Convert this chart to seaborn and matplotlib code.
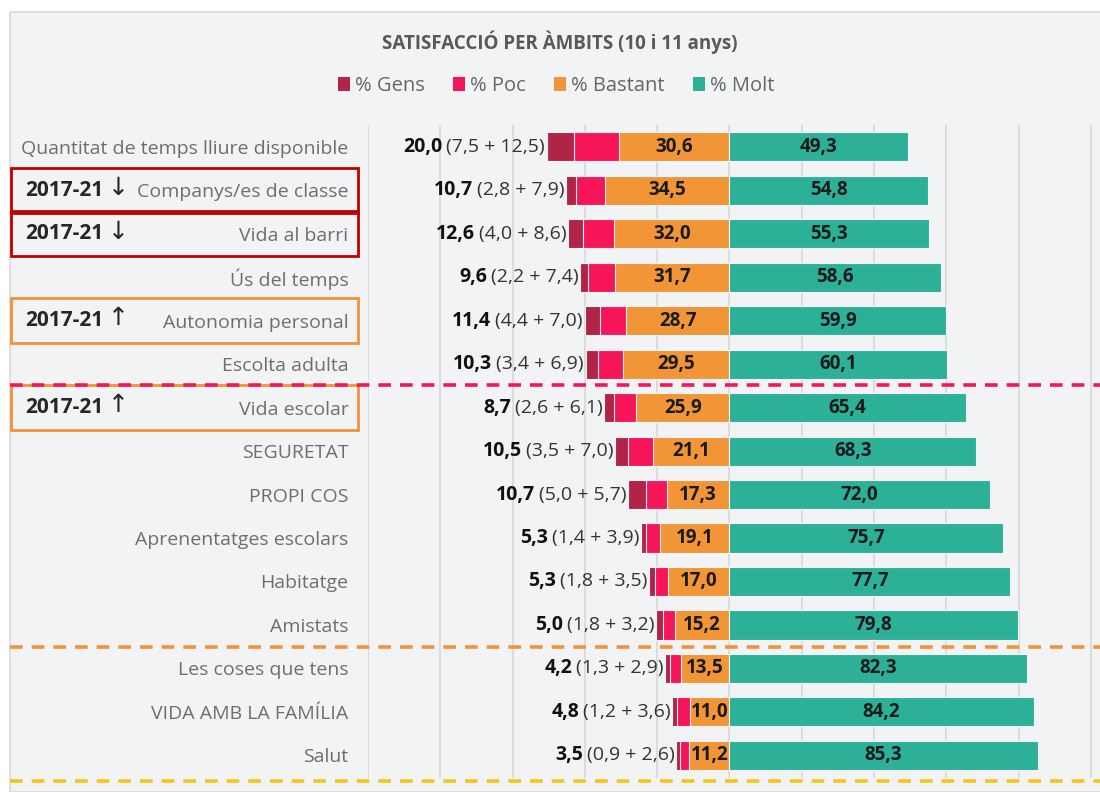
import matplotlib.pyplot as plt
import matplotlib.transforms as mtransforms
import seaborn as sns
from matplotlib.patches import Patch, Rectangle

# values (percentages)
categories = [
    "Quantitat de temps lliure disponible",
    "Companys/es de classe",
    "Vida al barri",
    "Ús del temps",
    "Autonomia personal",
    "Escolta adulta",
    "Vida escolar",
    "SEGURETAT",
    "PROPI COS",
    "Aprenentatges escolars",
    "Habitatge",
    "Amistats",
    "Les coses que tens",
    "VIDA AMB LA FAMÍLIA",
    "Salut",
]
gens = [7.5, 2.8, 4.0, 2.2, 4.4, 3.4, 2.6, 3.5, 5.0, 1.4, 1.8, 1.8, 1.3, 1.2, 0.9]
poc = [12.5, 7.9, 8.6, 7.4, 7.0, 6.9, 6.1, 7.0, 5.7, 3.9, 3.5, 3.2, 2.9, 3.6, 2.6]
insatisfets = [20.0, 10.7, 12.6, 9.6, 11.4, 10.3, 8.7, 10.5, 10.7, 5.3, 5.3, 5.0, 4.2, 4.8, 3.5]
bastant = [30.6, 34.5, 32.0, 31.7, 28.7, 29.5, 25.9, 21.1, 17.3, 19.1, 17.0, 15.2, 13.5, 11.0, 11.2]
molt = [49.3, 54.8, 55.3, 58.6, 59.9, 60.1, 65.4, 68.3, 72.0, 75.7, 77.7, 79.8, 82.3, 84.2, 85.3]

series_names = ["% Gens", "% Poc", "% Bastant", "% Molt"]
trend_rows = {
    "Companys/es de classe": "↓",
    "Vida al barri": "↓",
    "Autonomia personal": "↑",
    "Vida escolar": "↑",
}

# colours
C_GENS = "#AF2447"
C_POC = "#F7155A"
C_BASTANT = "#F19536"
C_MOLT = "#2CB198"
BG = "#F2F3F5"
RED_BOX = "#C00000"

sns.set_theme(style="whitegrid")
plt.rcParams["font.family"] = ["Open Sans", "DejaVu Sans"]

fig = plt.figure(figsize=(11, 7.92), dpi=100, facecolor="white")

# chart background panel
fig.patches.append(
    Rectangle((10 / 1100, 0), 1.0, (792 - 12) / 792, transform=fig.transFigure,
              facecolor=BG, edgecolor="#D9D9D9", linewidth=1.2, zorder=-10)
)

ax = fig.add_axes([368 / 1100, 14 / 792, 732 / 1100, (778 - 125) / 792])
ax.set_facecolor("none")

neg_gens = [-(g + p + b) for g, p, b in zip(gens, poc, bastant)]
neg_poc = [-(p + b) for p, b in zip(poc, bastant)]
neg_bastant = [-b for b in bastant]

bar_kw = dict(y=categories, orient="h", width=0.67, ax=ax,
              edgecolor=BG, linewidth=0.8, saturation=1)
sns.barplot(x=neg_gens, color=C_GENS, **bar_kw)
sns.barplot(x=neg_poc, color=C_POC, **bar_kw)
sns.barplot(x=neg_bastant, color=C_BASTANT, **bar_kw)
sns.barplot(x=molt, color=C_MOLT, **bar_kw)

ax.set_xlim(-100, 102.5)
ax.set_ylim(14.52, -0.5)
ax.set_xticks(range(-100, 101, 20))
ax.set_xticklabels([])
ax.set_xlabel("")
ax.set_ylabel("")
ax.grid(axis="x", color="#DADADA", linewidth=1.3)
ax.grid(axis="y", visible=False)
for s in ax.spines.values():
    s.set_visible(False)
ax.tick_params(axis="y", length=0, pad=14, labelsize=14, labelcolor="#6E6E6E")
ax.tick_params(axis="x", length=0)

def fmt(v):
    return f"{v:.1f}".replace(".", ",")

renderer = fig.canvas.get_renderer()
for i in range(len(categories)):
    ax.text(-bastant[i] / 2, i, fmt(bastant[i]), ha="center", va="center",
            fontsize=13.5, fontweight="bold", color="#1A1A1A")
    ax.text(molt[i] / 2, i, fmt(molt[i]), ha="center", va="center",
            fontsize=13.5, fontweight="bold", color="#1A1A1A")
    xe = neg_gens[i] - 0.5
    t = ax.text(xe, i, f"({fmt(gens[i])} + {fmt(poc[i])})", ha="right", va="center",
                fontsize=14, color="#333333")
    w = t.get_window_extent(renderer).width
    ax.annotate(fmt(insatisfets[i]), xy=(xe, i), xytext=(-(w + 4) * 72 / fig.dpi, 0),
                textcoords="offset points", ha="right", va="center",
                fontsize=14, fontweight="bold", color="#111111")

# row separators across the whole panel
blend = mtransforms.blended_transform_factory(fig.transFigure, ax.transData)
for yv, col in [(5.48, "#F7155A"), (11.5, "#F39237"), (14.6, "#F5C518")]:
    ax.plot([10 / 1100, 1.0], [yv, yv], transform=blend, clip_on=False,
            color=col, linewidth=2.6, linestyle=(0, (3.5, 2.5)))

# highlighted categories with 2017-21 trend
for i, cat in enumerate(categories):
    if cat not in trend_rows:
        continue
    arrow = trend_rows[cat]
    col = RED_BOX if arrow == "↓" else "#F39237"
    ax.add_patch(Rectangle((11 / 1100, i - 0.52), (358 - 11) / 1100, 1.04,
                           transform=blend, clip_on=False, fill=False,
                           edgecolor=col, linewidth=2))
    ax.text(25 / 1100, i, "2017-21", transform=blend, ha="left", va="center",
            fontsize=15, fontweight="bold", color="#262626")
    ax.text(108 / 1100, i - 0.05, arrow, transform=blend, ha="left", va="center",
            fontsize=18, color="#262626", family=["DejaVu Sans"])

fig.text(560 / 1100, 1 - 42 / 792, "SATISFACCIÓ PER ÀMBITS (10 i 11 anys)",
         ha="center", va="center", fontsize=13.5, fontweight="bold", color="#595959")

handles = [Patch(facecolor=c, edgecolor="none") for c in [C_GENS, C_POC, C_BASTANT, C_MOLT]]
fig.legend(handles, series_names, loc="center", bbox_to_anchor=(556 / 1100, 1 - 86 / 792),
           ncol=4, frameon=False, fontsize=14.5, handlelength=0.6, handleheight=0.65,
           handletextpad=0.25, columnspacing=1.4, labelcolor="#666666")

fig.savefig("out.png", dpi=100, facecolor="white")
